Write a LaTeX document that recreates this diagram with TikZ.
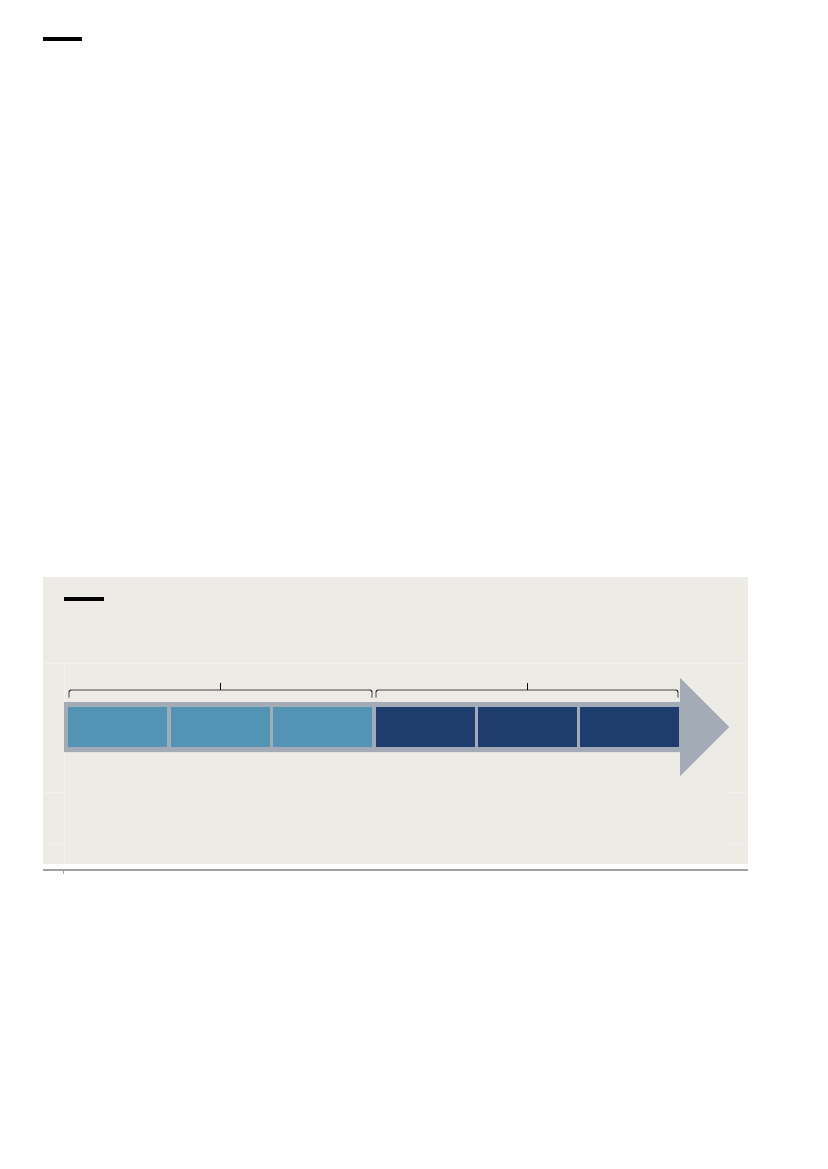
\documentclass[tikz,border=0pt]{standalone}
\definecolor{panelbg}{HTML}{EDEBE6}
\definecolor{faint}{HTML}{F3F2EE}
\definecolor{arrowgrey}{HTML}{A3ABB6}
\definecolor{lightblue}{HTML}{5393B4}
\definecolor{navy}{HTML}{1C3D6E}
\definecolor{ruleline}{HTML}{A0A0A0}
\tikzset{
  cell/.style={draw=none, minimum width=99pt, minimum height=40pt, inner sep=0pt, anchor=north west},
  lightcell/.style={cell, fill=lightblue},
  darkcell/.style={cell, fill=navy},
  bracebar/.style={draw=black, line width=0.75pt, rounded corners=1.5pt},
  bracetick/.style={draw=black, line width=0.75pt},
  titlebar/.style={fill=black},
  faintline/.style={draw=faint, line width=0.8pt}
}
\begin{document}
\begin{tikzpicture}[x=1pt,y=-1pt]
\useasboundingbox (0,0) rectangle (827,1169);
\fill[white] (0,0) rectangle (827,1169);
% top title bar
\fill[titlebar] (43,37) rectangle (82,41);
% panel
\fill[panelbg] (43,577) rectangle (748,864);
% faint grid lines
\draw[faintline] (43,663) -- (748,663);
\draw[faintline] (64,663) -- (64,864);
\draw[faintline] (43,792) -- (64,792);
\draw[faintline] (43,844) -- (64,844);
\draw[faintline] (728,663) -- (748,663);
\draw[faintline] (728,792) -- (748,792);
\draw[faintline] (728,844) -- (748,844);
% panel title bar
\fill[titlebar] (64,597) rectangle (104,601);
% arrow
\fill[arrowgrey] (64,702) -- (680,702) -- (680,678) -- (729,727) -- (680,776) -- (680,752) -- (64,752) -- cycle;
% cells
\node[lightcell] (c1) at (68,707) {};
\node[lightcell] (c2) at (171,707) {};
\node[lightcell] (c3) at (273,707) {};
\node[darkcell] (c4) at (376,707) {};
\node[darkcell] (c5) at (478,707) {};
\node[darkcell] (c6) at (580,707) {};
% braces
\coordinate (b1s) at (69,697.5);
\coordinate (b1e) at (372,697.5);
\coordinate (b1m) at (220,683);
\coordinate (b2s) at (376,697.5);
\coordinate (b2e) at (678,697.5);
\coordinate (b2m) at (527,683);
\draw[bracebar] (b1s) |- (b1m |- 0,690) -| (b1e);
\draw[bracetick] (b1m) -- ++(0,7);
\draw[bracebar] (b2s) |- (b2m |- 0,690) -| (b2e);
\draw[bracetick] (b2m) -- ++(0,7);
% bottom rule
\draw[ruleline, line width=1.5pt] (43,870) -- (748,870);
\draw[ruleline, line width=0.8pt] (63,870) -- (63,874);
\end{tikzpicture}
\end{document}
